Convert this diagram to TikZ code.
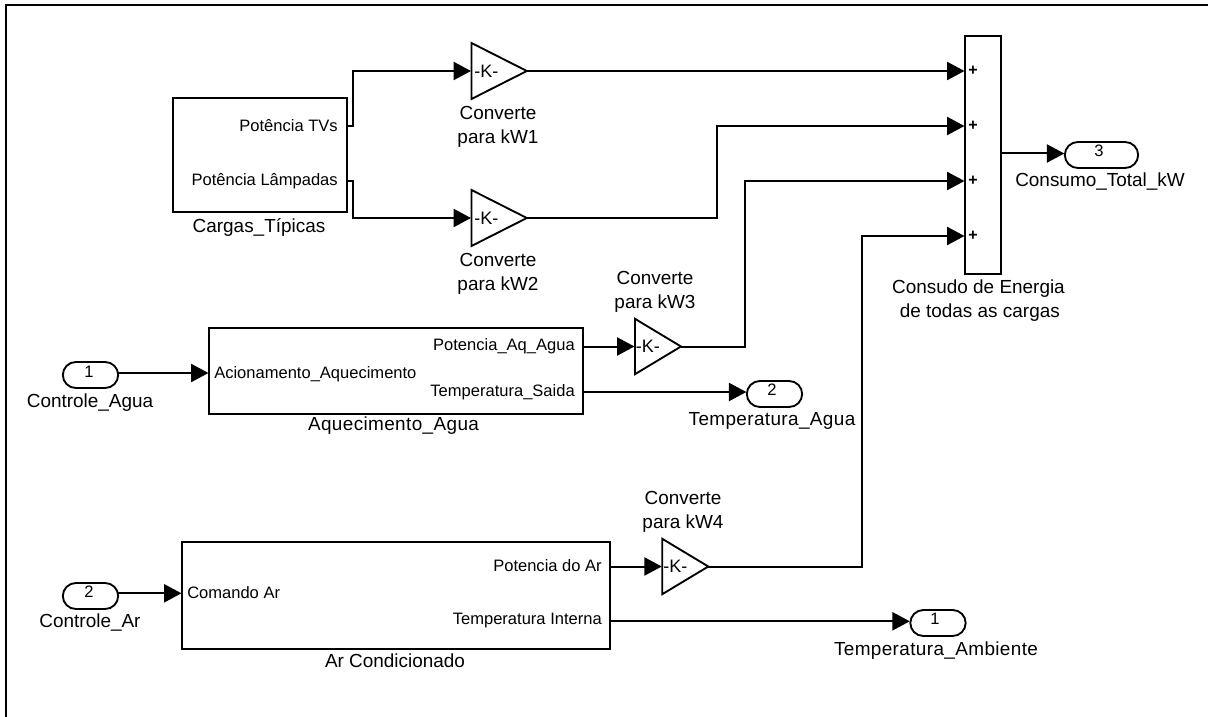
\documentclass[tikz,border=0pt]{standalone}
\usepackage{fontspec}
\setmainfont{Liberation Sans}
\newfontfamily\widefam[LetterSpace=2]{Liberation Sans}
\usetikzlibrary{arrows.meta,shapes.geometric,shapes.misc}
\tikzset{
  x=0.75pt,y=-0.75pt,
  wire/.style={line width=1.5pt,-{Triangle[length=13pt,width=13.5pt]},shorten >=0.4pt},
  blockbox/.style={draw,line width=1.4pt,rectangle,inner sep=0pt,outer sep=0pt},
  gainblock/.style={draw,line width=1.4pt,isosceles triangle,isosceles triangle stretches,anchor=west,minimum width=42pt,minimum height=41.5pt,inner sep=0pt,outer sep=0pt},
  smallgain/.style={gainblock,minimum width=41.5pt,minimum height=34.5pt},
  portblock/.style={draw,line width=1.4pt,rounded rectangle,minimum width=41.5pt,minimum height=19.5pt,inner sep=0pt,outer sep=0pt},
  lbl/.style={font=\fontsize{14.2}{16}\selectfont,inner sep=0pt,align=center},
  plbl/.style={font=\fontsize{12.4}{14}\selectfont,inner sep=0pt},
  gaintext/.style={font=\fontsize{13.5}{14}\selectfont,inner sep=0pt,anchor=west},
  plusmark/.style={font=\fontsize{12}{12}\selectfont\bfseries,inner sep=0pt},
  frameline/.style={line width=1.8pt}
}
\begin{document}
\begin{tikzpicture}
\useasboundingbox (0,0) rectangle (1208,717);
% frame
\coordinate (fa) at (6,717);
\coordinate (fb) at (6,5);
\coordinate (fc) at (1208,5);
\draw[frameline] (fa) -- (fb) -- (fc);
% blocks
\node[blockbox,minimum width=130pt,minimum height=85.5pt] (cargas) at (260,155.3) {};
\node[blockbox,minimum width=280.5pt,minimum height=64.5pt] (aq) at (396,371) {};
\node[blockbox,minimum width=321pt,minimum height=80.3pt] (ar) at (396,595.5) {};
\node[blockbox,minimum width=27.2pt,minimum height=178.5pt] (soma) at (983,155) {};
\node[gainblock] (g1) at (471.5,71) {};
\node[gainblock] (g2) at (471.5,218) {};
\node[smallgain] (g3) at (635,346.5) {};
\node[smallgain] (g4) at (662.3,566.5) {};
\node[portblock] (in1) at (90.5,375) {};
\node[portblock] (in2) at (90.5,596) {};
\node[portblock,minimum width=55pt] (out3) at (1101.5,155) {};
\node[portblock] (out2) at (774.5,394) {};
\node[portblock] (out1) at (938,623) {};
% port numbers
\node[plbl] (nin1) at (89,372) {1};
\node[plbl] (nin2) at (89,592) {2};
\node[plbl] (nout3) at (1099,151) {3};
\node[plbl] (nout2) at (772,390) {2};
\node[plbl] (nout1) at (935,619) {1};
% gain text
\node[gaintext] (k1) at (474,71) {-K-};
\node[gaintext] (k2) at (474,218) {-K-};
\node[gaintext] (k3) at (635.5,346.5) {-K-};
\node[gaintext] (k4) at (663,566.5) {-K-};
% block port labels
\node[plbl,anchor=east] (p1) at (338,126) {Potência TVs};
\node[plbl,anchor=east] (p2) at (338,181) {Potência Lâmpadas};
\node[plbl,anchor=east] (p3) at (575,346) {Potencia\_Aq\_Agua};
\node[plbl,anchor=east] (p4) at (575,392) {Temperatura\_Saida};
\node[plbl,anchor=west] (p5) at (214,374) {Acionamento\_Aquecimento};
\node[plbl,anchor=east] (p6) at (602,566) {Potencia do Ar};
\node[plbl,anchor=east] (p7) at (602,621) {Temperatura Interna};
\node[plbl,anchor=west] (p8) at (187,593) {Comando Ar};
% sum plus signs
\foreach \n/\y in {a/71,b/126,c/181,d/236}{
  \coordinate (in\n) at (965,\y);
  \node[plusmark] (plus\n) at (973,\y) {+};
}
% outer labels
\node[lbl] (l1) at (259,227) {Cargas\_Típicas};
\node[lbl] (l2) at (498,126.5) {Converte\\[2pt]para kW1};
\node[lbl] (l3) at (498,273.5) {Converte\\[2pt]para kW2};
\node[lbl] (l4) at (655,291.5) {Converte\\[2pt]para kW3};
\node[lbl] (l5) at (683,511.5) {Converte\\[2pt]para kW4};
\node[lbl] (l6) at (978.5,300.5) {Consudo de Energia\\[2pt]\hspace*{2pt}de todas as cargas};
\node[lbl] (l7) at (1100,181.5) {Consumo\_Total\_kW};
\node[lbl] (l8) at (772,421) {\widefam Temperatura\_Agua};
\node[lbl] (l9) at (395,661) {Ar Condicionado};
\node[lbl] (l10) at (393.5,426) {\widefam Aquecimento\_Agua};
\node[lbl] (l11) at (936,651) {\widefam Temperatura\_Ambiente};
\node[lbl] (l12) at (90,403) {Controle\_Agua};
\node[lbl] (l13) at (90,623) {Controle\_Ar};
% connection points
\coordinate (c1) at (346.5,126);
\coordinate (c2) at (346.5,181);
\coordinate (c3) at (583,346.5);
\coordinate (c4) at (583,392);
\coordinate (c5) at (610,566.5);
\coordinate (c6) at (610,621.3);
\coordinate (s1) at (1001,153.5);
\coordinate (t1) at (209,373);
\coordinate (t2) at (182,593.3);
% connectors
\draw[wire] (c1) -- (353,126) -- (353,71) -- (g1.west);
\draw[wire] (c2) -- (353,181) -- (353,218) -- (g2.west);
\draw[wire] (g1.east) -- (ina);
\draw[wire] (g2.east) -- (717,218) -- (717,126) -- (inb);
\draw[wire] (c3) -- (g3.west);
\draw[wire] (g3.east) -- (745,346.5) -- (745,181) -- (inc);
\draw[wire] (c4) -- (out2.west |- c4);
\draw[wire] (in1.east |- t1) -- (t1);
\draw[wire] (in2.east |- t2) -- (t2);
\draw[wire] (c5) -- (g4.west);
\draw[wire] (g4.east) -- (862,566.5) -- (862,236) -- (ind);
\draw[wire] (c6) -- (out1.west |- c6);
\draw[wire] (s1) -- (out3.west |- s1);
\end{tikzpicture}
\end{document}
